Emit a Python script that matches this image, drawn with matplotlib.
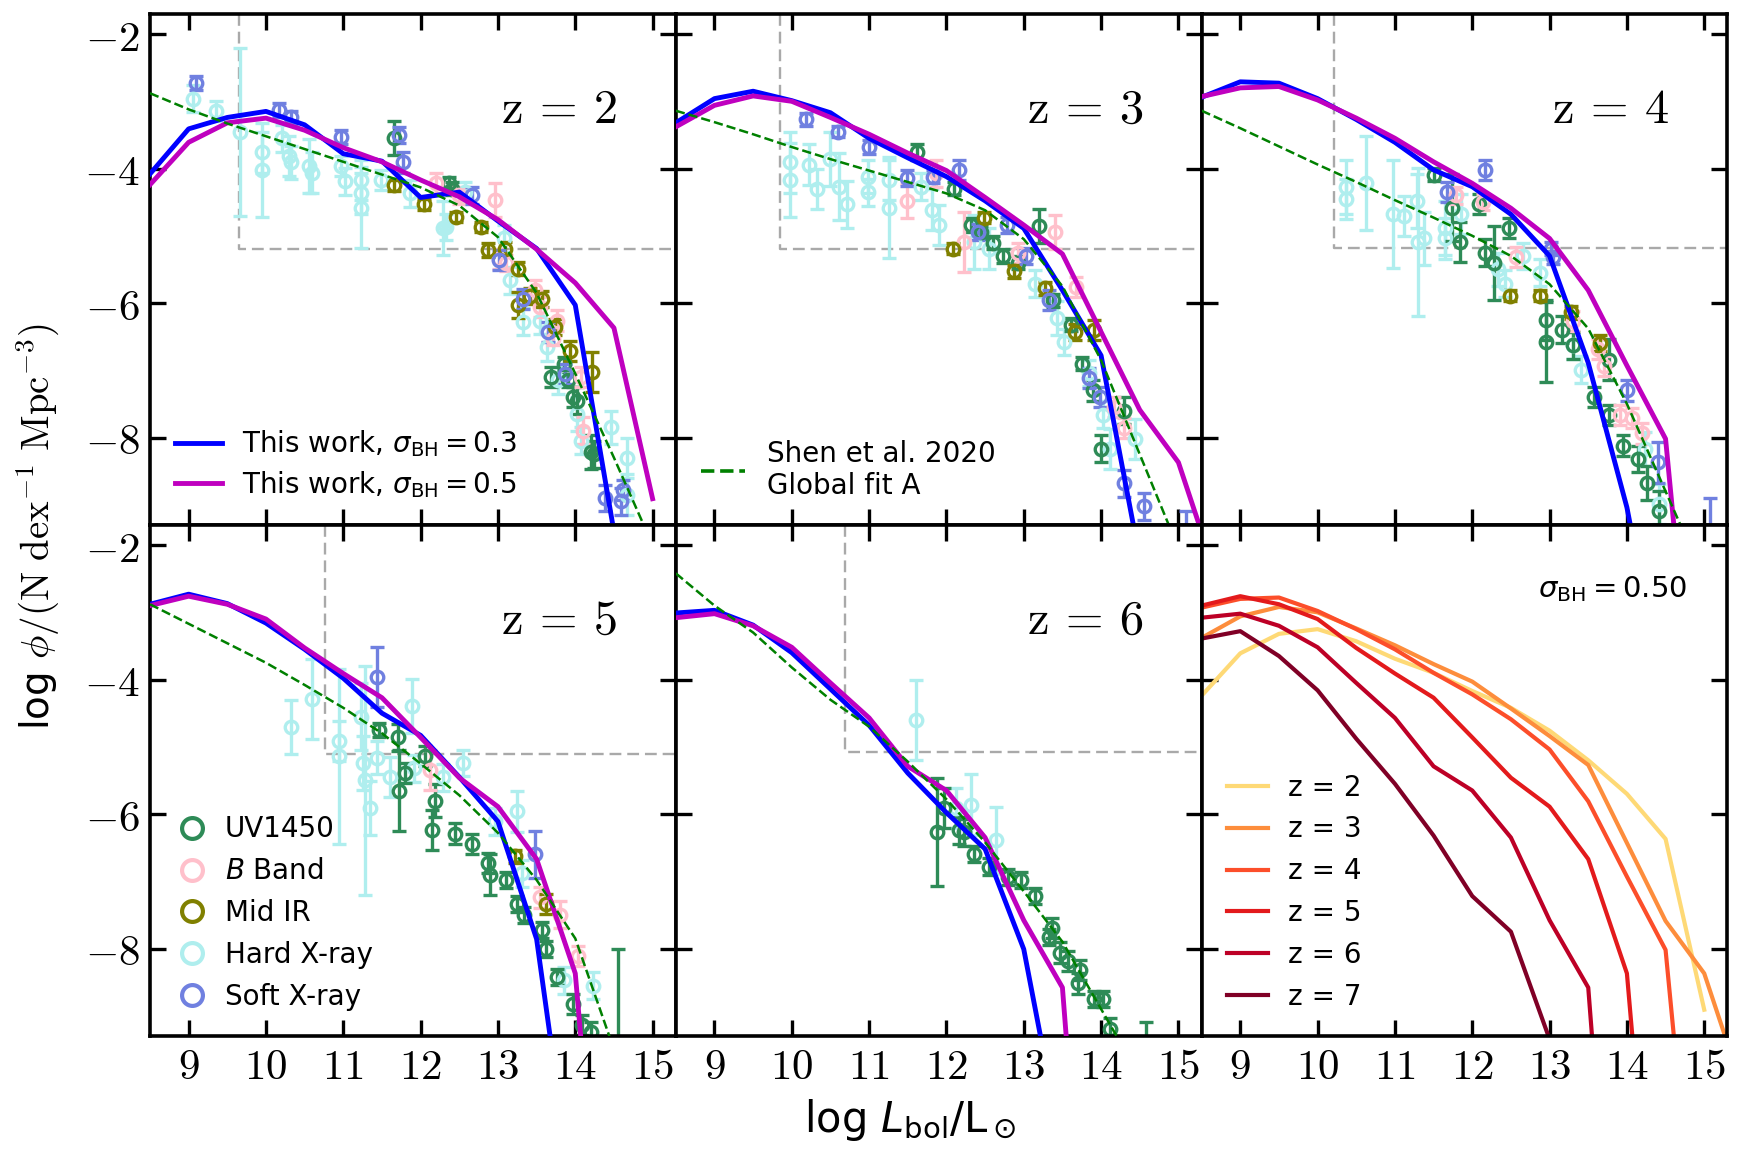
import numpy as np
import matplotlib.pyplot as plt
from matplotlib.lines import Line2D

plt.rcParams['mathtext.fontset'] = 'cm'

# luminosity grid of the model curves (log Lbol / Lsun)
lbol = [8.5, 9.0, 9.5, 10.0, 10.5, 11.0, 11.5, 12.0, 12.5, 13.0, 13.5, 14.0, 14.5, 15.0, 15.5]

# this work, sigma_BH = 0.3
phi03_z2 = [-4.08, -3.41, -3.24, -3.15, -3.35, -3.78, -3.89, -4.43, -4.35, -4.78, -5.19, -6.03, -9.4, -12, np.nan]
phi03_z3 = [-3.32, -2.96, -2.85, -2.99, -3.17, -3.55, -3.84, -4.12, -4.48, -4.89, -5.81, -6.78, -9.8, -12, -12]
phi03_z4 = [-2.94, -2.71, -2.73, -2.96, -3.27, -3.61, -4.02, -4.27, -4.68, -5.30, -6.89, -9.04, -12, -12, -12]
phi03_z5 = [-2.88, -2.73, -2.87, -3.16, -3.55, -3.98, -4.50, -4.83, -5.45, -6.11, -7.86, -12, -12, -12, -12]
phi03_z6 = [-3.01, -2.97, -3.19, -3.60, -4.14, -4.68, -5.39, -5.98, -6.52, -8.01, -11, -12, -12, -12, -12]

# this work, sigma_BH = 0.5
phi05_z2 = [-4.24, -3.61, -3.32, -3.25, -3.43, -3.69, -3.90, -4.17, -4.42, -4.76, -5.20, -5.70, -6.37, -8.91, np.nan]
phi05_z3 = [-3.38, -3.06, -2.92, -3.00, -3.24, -3.49, -3.77, -4.03, -4.43, -4.84, -5.27, -6.43, -7.59, -8.37, -10.1]
phi05_z4 = [-2.93, -2.80, -2.78, -2.98, -3.25, -3.55, -3.90, -4.22, -4.59, -5.04, -5.81, -6.93, -8.02, -14, -14]
phi05_z5 = [-2.90, -2.76, -2.88, -3.10, -3.53, -3.91, -4.27, -4.86, -5.46, -5.89, -6.67, -8.37, -15, -15, -15]
phi05_z6 = [-3.08, -3.02, -3.20, -3.52, -4.05, -4.57, -5.29, -5.65, -6.35, -7.58, -8.58, -16, -16, -16, -16]
phi05_z7 = [-3.39, -3.28, -3.65, -4.16, -4.88, -5.55, -6.32, -7.22, -7.75, -9.35, -12, -12, -12, -12, -12]

# Shen et al. 2020, global fit A
shen_z2 = [-2.88, -3.12, -3.33, -3.52, -3.71, -3.90, -4.09, -4.28, -4.55, -5.02, -5.85, -7.05, -8.30, -9.60, -10.9]
shen_z3 = [-3.14, -3.31, -3.49, -3.68, -3.86, -4.03, -4.20, -4.37, -4.62, -5.05, -5.75, -6.85, -8.25, -9.65, -11.0]
shen_z4 = [-3.14, -3.40, -3.67, -3.94, -4.20, -4.47, -4.73, -5.00, -5.30, -5.72, -6.38, -7.50, -8.80, -10.1, -11.4]
shen_z5 = [-2.88, -3.17, -3.46, -3.75, -4.08, -4.42, -4.80, -5.25, -5.72, -6.28, -6.98, -7.85, -9.50, -11.0, -12.5]
shen_z6 = [-2.42, -2.90, -3.30, -3.82, -4.30, -4.70, -5.22, -5.78, -6.42, -7.15, -7.90, -8.90, -9.90, -10.9, -11.9]

# observational compilation: (log L, log phi, error)
uv_z2 = [(11.65, -3.55, 0.25), (12.37, -4.22, 0.1), (12.41, -4.30, 0.1), (13.68, -7.10, 0.15),
         (13.85, -6.90, 0.1), (13.90, -7.15, 0.1), (13.97, -7.40, 0.15), (14.02, -7.45, 0.2),
         (14.20, -8.22, 0.25), (14.24, -8.25, 0.2)]
bb_z2 = [(12.20, -4.22, 0.15), (12.50, -4.40, 0.12), (12.96, -4.47, 0.25), (13.02, -5.34, 0.15),
         (13.10, -5.40, 0.12), (13.48, -5.81, 0.15), (13.54, -6.06, 0.15), (13.71, -6.53, 0.1),
         (13.76, -6.26, 0.15), (14.07, -7.10, 0.15), (14.10, -7.90, 0.2)]
ir_z2 = [(11.66, -4.25, 0.08), (12.05, -4.53, 0.08), (12.46, -4.72, 0.08), (12.78, -4.87, 0.08),
         (12.87, -5.21, 0.1), (13.09, -5.19, 0.1), (13.26, -5.49, 0.1), (13.26, -6.03, 0.2),
         (13.41, -5.89, 0.12), (13.57, -5.94, 0.12), (13.74, -6.36, 0.12), (13.93, -6.71, 0.15),
         (14.22, -7.03, 0.3)]
hx_z2 = [(9.06, -2.96, 0.2), (9.35, -3.14, 0.15), (9.66, -3.45, 1.25), (9.95, -3.76, 0.3),
         (9.95, -4.02, 0.7), (10.21, -3.55, 0.2), (10.30, -3.81, 0.3), (10.33, -3.91, 0.25),
         (10.56, -3.96, 0.4), (10.59, -4.06, 0.3), (10.97, -3.96, 0.15), (11.02, -4.19, 0.2),
         (11.23, -4.17, 0.3), (11.23, -4.37, 0.3), (11.23, -4.58, 0.6), (11.49, -4.17, 0.15),
         (11.86, -4.37, 0.2), (12.29, -4.89, 0.4), (12.33, -4.87, 0.2), (12.58, -4.35, 0.15),
         (13.08, -5.04, 0.2), (13.15, -5.66, 0.2), (13.33, -6.28, 0.2), (13.54, -6.26, 0.2),
         (13.63, -6.66, 0.2), (13.78, -7.15, 0.2), (14.02, -7.65, 0.25), (14.07, -8.05, 0.2),
         (14.46, -7.85, 0.25), (14.67, -8.30, 0.3), (14.67, -8.85, 0.3)]
sx_z2 = [(9.09, -2.73, 0.1), (10.17, -3.13, 0.1), (10.33, -3.24, 0.1), (10.97, -3.53, 0.1),
         (11.72, -3.50, 0.12), (11.77, -3.91, 0.15), (12.67, -4.40, 0.12), (13.02, -5.36, 0.15),
         (13.33, -5.94, 0.15), (13.65, -6.43, 0.15), (13.87, -7.05, 0.15), (14.39, -8.90, 0.2),
         (14.59, -8.95, 0.2), (14.62, -8.78, 0.15)]

uv_z3 = [(11.62, -3.76, 0.12), (12.10, -4.30, 0.1), (12.32, -4.84, 0.1), (12.45, -4.95, 0.1),
         (12.60, -5.10, 0.1), (12.73, -5.30, 0.1), (12.92, -5.40, 0.1), (13.20, -4.85, 0.25),
         (13.38, -5.96, 0.1), (13.61, -6.32, 0.1), (13.75, -6.90, 0.1), (13.89, -7.30, 0.15),
         (14.00, -8.17, 0.2), (14.30, -7.60, 0.2)]
bb_z3 = [(11.49, -4.48, 0.25), (11.86, -4.07, 0.2), (12.23, -5.09, 0.45), (12.92, -5.25, 0.15),
         (13.40, -4.94, 0.25), (13.68, -5.76, 0.15), (14.17, -7.55, 0.15), (14.30, -7.86, 0.15)]
ir_z3 = [(12.09, -5.19, 0.08), (12.48, -4.73, 0.08), (12.87, -5.53, 0.1), (13.27, -5.78, 0.1),
         (13.66, -6.43, 0.12), (13.91, -6.40, 0.15)]
hx_z3 = [(9.98, -3.91, 0.45), (9.98, -4.17, 0.55), (10.22, -3.94, 0.3), (10.33, -4.30, 0.3),
         (10.49, -3.86, 0.4), (10.61, -4.27, 0.5), (10.72, -4.53, 0.35), (10.98, -4.12, 0.25),
         (10.98, -4.35, 0.2), (11.26, -4.58, 0.75), (11.26, -4.17, 0.3), (11.67, -4.27, 0.2),
         (11.81, -4.61, 0.3), (11.90, -4.84, 0.3), (12.36, -5.09, 0.4), (12.55, -5.19, 0.3),
         (13.15, -5.71, 0.2), (13.43, -6.22, 0.25), (13.52, -6.58, 0.2), (13.84, -7.04, 0.2),
         (14.03, -7.66, 0.2), (14.12, -8.17, 0.3), (14.44, -8.02, 0.3)]
sx_z3 = [(10.19, -3.27, 0.1), (10.60, -3.45, 0.08), (11.00, -3.68, 0.1), (11.49, -4.14, 0.12),
         (11.83, -4.12, 0.1), (12.16, -4.02, 0.15), (12.41, -4.94, 0.12), (12.78, -4.84, 0.12),
         (13.03, -5.30, 0.12), (13.33, -5.96, 0.15), (13.84, -7.12, 0.15), (13.98, -7.40, 0.15),
         (14.30, -8.68, 0.2), (14.56, -9.02, 0.2), (15.10, -9.60, 0.5)]

uv_z4 = [(11.51, -4.09, 0.1), (11.74, -4.58, 0.5), (11.84, -5.09, 0.3), (12.09, -4.53, 0.15),
         (12.16, -5.25, 0.2), (12.28, -5.40, 0.55), (12.47, -4.89, 0.15), (12.95, -6.25, 0.3),
         (12.95, -6.58, 0.6), (13.16, -6.40, 0.2), (13.30, -6.63, 0.2), (13.58, -7.40, 0.15),
         (13.77, -7.66, 0.15), (13.77, -6.84, 0.3), (13.95, -8.12, 0.15), (14.14, -8.32, 0.2),
         (14.26, -8.68, 0.25), (14.42, -9.09, 0.3)]
bb_z4 = [(11.79, -4.40, 0.12), (12.14, -4.50, 0.12), (12.56, -5.32, 0.15), (13.30, -6.27, 0.15),
         (13.63, -6.68, 0.15), (13.70, -6.94, 0.15), (13.91, -7.66, 0.15), (14.07, -7.71, 0.15),
         (14.19, -7.94, 0.15)]
ir_z4 = [(12.49, -5.89, 0.08), (12.88, -5.89, 0.08), (13.28, -6.14, 0.1), (13.65, -6.60, 0.12)]
hx_z4 = [(10.37, -4.27, 0.4), (10.37, -4.45, 0.3), (10.63, -4.22, 0.7), (10.98, -4.68, 0.8),
         (11.12, -4.71, 0.3), (11.28, -4.48, 0.4), (11.30, -5.09, 1.1), (11.37, -5.04, 0.4),
         (11.65, -4.89, 0.4), (11.65, -5.04, 0.3), (11.86, -4.68, 0.3), (12.33, -5.50, 0.25),
         (12.42, -5.71, 0.2), (12.65, -5.30, 0.2), (12.88, -5.55, 0.2), (13.30, -6.63, 0.2),
         (13.40, -6.99, 0.2), (14.23, -8.17, 0.25), (14.42, -8.99, 0.3)]
sx_z4 = [(11.67, -4.35, 0.15), (12.16, -4.02, 0.15), (13.02, -5.19, 0.1), (13.05, -5.32, 0.1),
         (14.00, -7.30, 0.15), (14.40, -8.37, 0.3), (15.07, -9.40, 0.5)]

uv_z5 = [(11.46, -4.75, 0.1), (11.71, -4.86, 0.2), (11.72, -5.65, 0.6), (11.80, -5.39, 0.15),
         (12.06, -5.14, 0.15), (12.18, -5.80, 0.25), (12.15, -6.24, 0.3), (12.44, -6.29, 0.15),
         (12.67, -6.45, 0.15), (12.87, -6.73, 0.15), (12.90, -6.90, 0.3), (13.10, -6.98, 0.12),
         (13.25, -7.34, 0.12), (13.34, -7.50, 0.12), (13.57, -7.73, 0.12), (13.62, -8.01, 0.12),
         (13.77, -8.42, 0.12), (13.97, -8.83, 0.15), (14.09, -9.14, 0.15), (14.20, -9.24, 0.15),
         (14.55, -9.60, 1.6)]
bb_z5 = [(12.12, -5.34, 0.3), (13.54, -7.24, 0.15), (13.80, -7.50, 0.2), (14.03, -8.11, 0.15)]
ir_z5 = [(13.22, -6.63, 0.1), (13.62, -7.34, 0.15)]
hx_z5 = [(10.33, -4.70, 0.4), (10.59, -4.29, 0.6), (10.94, -4.91, 0.3), (10.94, -5.14, 1.3),
         (11.23, -4.55, 0.5), (11.25, -5.24, 0.4), (11.28, -5.50, 1.7), (11.34, -5.91, 0.4),
         (11.43, -5.16, 0.25), (11.60, -5.45, 0.3), (11.89, -4.39, 0.4), (11.92, -5.32, 0.2),
         (12.29, -5.45, 0.2), (12.55, -5.24, 0.2), (12.96, -6.11, 0.2), (13.25, -5.96, 0.3),
         (13.31, -6.88, 0.2), (13.86, -8.47, 0.2), (14.23, -8.55, 0.2)]
sx_z5 = [(11.43, -3.96, 0.45), (13.48, -6.60, 0.35)]

uv_z6 = [(11.88, -6.27, 0.8), (11.97, -5.91, 0.3), (12.16, -6.24, 0.2), (12.23, -6.27, 0.2),
         (12.36, -6.60, 0.12), (12.55, -6.78, 0.12), (12.80, -6.93, 0.12), (12.96, -6.98, 0.12),
         (13.15, -7.22, 0.12), (13.33, -7.83, 0.12), (13.36, -7.70, 0.15), (13.47, -8.06, 0.15),
         (13.57, -8.19, 0.15), (13.70, -8.52, 0.15), (13.73, -8.32, 0.15), (13.91, -8.75, 0.12),
         (14.03, -8.75, 0.12), (14.12, -9.19, 0.15), (14.58, -9.70, 0.6)]
hx_z6 = [(11.60, -4.60, 0.6), (12.13, -5.91, 0.3), (12.32, -5.86, 0.45), (12.64, -6.39, 0.5)]

# completeness limits (vertical edge, horizontal level)
lim_x = [9.65, 9.85, 10.21, 10.76, 10.69]
lim_y = [-5.20, -5.20, -5.18, -5.11, -5.08]

redshifts = [2, 3, 4, 5, 6]
band_names = ['UV1450', '$B$ Band', 'Mid IR', 'Hard X-ray', 'Soft X-ray']
band_colors = ['seagreen', 'pink', 'olive', 'paleturquoise', '#7080E0']
xlim = (8.5, 15.3)
ylim = (-9.3, -1.7)

obs = {
    2: [uv_z2, bb_z2, ir_z2, hx_z2, sx_z2],
    3: [uv_z3, bb_z3, ir_z3, hx_z3, sx_z3],
    4: [uv_z4, bb_z4, ir_z4, hx_z4, sx_z4],
    5: [uv_z5, bb_z5, ir_z5, hx_z5, sx_z5],
    6: [uv_z6, [], [], hx_z6, []],
}
model03 = [phi03_z2, phi03_z3, phi03_z4, phi03_z5, phi03_z6]
model05 = [phi05_z2, phi05_z3, phi05_z4, phi05_z5, phi05_z6]
shen = [shen_z2, shen_z3, shen_z4, shen_z5, shen_z6]

all_z = [2, 3, 4, 5, 6, 7]
all_phi05 = [phi05_z2, phi05_z3, phi05_z4, phi05_z5, phi05_z6, phi05_z7]
z_colors = ['#FED976', '#FD8D3C', '#FC4E2A', '#E31A1C', '#BD0026', '#800026']

fig, axes = plt.subplots(2, 3, figsize=(17.44, 11.58), dpi=100)
fig.subplots_adjust(left=0.086, right=0.9905, top=0.988, bottom=0.1054,
                    wspace=0, hspace=0)
panels = axes.flatten()

for i, z in enumerate(redshifts):
    ax = panels[i]
    ax.plot([lim_x[i], lim_x[i], xlim[1]], [ylim[1], lim_y[i], lim_y[i]],
            color='darkgray', lw=1.7, dashes=(5, 2.5), zorder=1)
    # hard X-ray first so the rest sits on top
    for k in [3, 0, 1, 2, 4]:
        pts = obs[z][k]
        if not pts:
            continue
        px = [p[0] for p in pts]
        py = [p[1] for p in pts]
        pe = [p[2] for p in pts]
        ax.errorbar(px, py, yerr=pe, fmt='o', mfc='none', mec=band_colors[k],
                    ecolor=band_colors[k], ms=9, mew=2.4, elinewidth=2.4,
                    capsize=5, capthick=2.4, zorder=2)
    ax.plot(lbol, shen[i], color='green', ls='--', lw=1.8, zorder=4)
    ax.plot(lbol, model03[i], color='blue', lw=3.5, zorder=3,
            label=r'This work, $\sigma_{\rm BH} = 0.3$')
    ax.plot(lbol, model05[i], color='m', lw=3.5, zorder=3,
            label=r'This work, $\sigma_{\rm BH} = 0.5$')
    ax.text(0.89, 0.81, 'z = %d' % z, transform=ax.transAxes, ha='right',
            va='center', fontsize=35, family='cmr10')

# redshift evolution panel
ax = panels[5]
for j, z in enumerate(all_z):
    ax.plot(lbol, all_phi05[j], color=z_colors[j], lw=3, label='z = %d' % z)
ax.text(0.923, 0.875, r'$\sigma_{\rm BH} = 0.50$', transform=ax.transAxes,
        ha='right', va='center', fontsize=21, math_fontfamily='dejavusans')

for n, ax in enumerate(panels):
    ax.set_xlim(*xlim)
    ax.set_ylim(*ylim)
    ax.set_xticks([9, 10, 11, 12, 13, 14, 15])
    ax.set_yticks([-8, -6, -4, -2])
    ax.tick_params(direction='in', top=True, right=True, length=11.5,
                   width=2.4, pad=7, labelsize=31)
    for s in ax.spines.values():
        s.set_linewidth(2.6)
    if n >= 3:
        ax.set_xticklabels(['$%d$' % t for t in range(9, 16)])
    else:
        ax.set_xticklabels([])
    if n % 3 == 0:
        ax.set_yticklabels(['$-8$', '$-6$', '$-4$', '$-2$'])
    else:
        ax.set_yticklabels([])

# legends
h, l = panels[0].get_legend_handles_labels()
leg = panels[0].legend(h, l, loc='lower left', frameon=False, fontsize=20,
                       handlelength=1.7, handletextpad=0.7, labelspacing=0.35)
for t in leg.get_texts():
    t.set_math_fontfamily('dejavusans')

shen_handle = Line2D([], [], color='green', ls='--', lw=2.6)
panels[1].legend([shen_handle], ['Shen et al. 2020\nGlobal fit A'], loc='lower left',
                 frameon=False, fontsize=20, handlelength=1.6, handletextpad=0.8)

band_handles = [Line2D([], [], ls='none', marker='o', mfc='none', mec=c, ms=15, mew=3)
                for c in band_colors]
leg = panels[3].legend(band_handles, band_names, loc='lower left', frameon=False,
                       fontsize=20, handlelength=1.2, handletextpad=0.6,
                       labelspacing=0.5)
for t in leg.get_texts():
    t.set_math_fontfamily('dejavusans')

panels[5].legend(loc='lower left', frameon=False, fontsize=20, handlelength=1.5,
                 handletextpad=0.7, labelspacing=0.5)

fig.text(0.522, 0.033, r'log $L_{\rm bol}/\rm L_\odot$', ha='center', va='center',
         fontsize=30, math_fontfamily='dejavusans')
fig.text(0.022, 0.545, r'log $\phi/(\rm N\ dex^{-1}\ Mpc^{-3})$', ha='center',
         va='center', rotation=90, fontsize=28)

fig.savefig('out.png', dpi=100)
